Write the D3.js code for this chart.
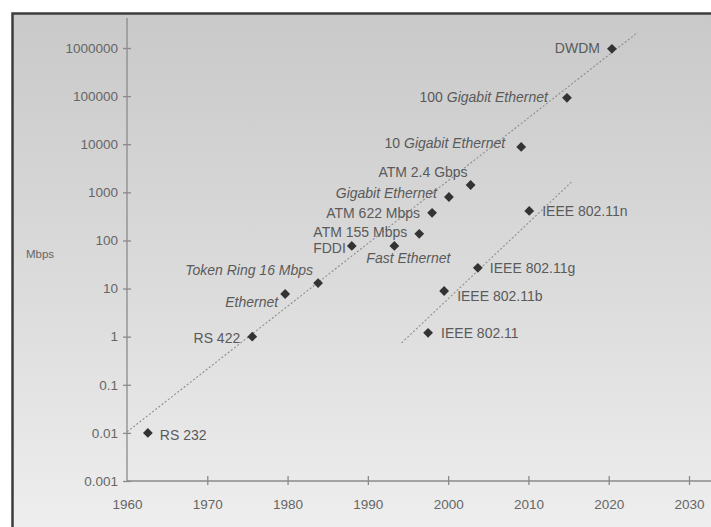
<!DOCTYPE html>
<html>
<head>
<meta charset="utf-8">
<script src="https://cdn.jsdelivr.net/npm/d3@7"></script>
<style>
  html, body { margin: 0; padding: 0; background: #fff; }
  svg { display: block; font-family: "Liberation Sans", Arial, sans-serif; }
</style>
</head>
<body>
<div id="chart"></div>
<script>
// data
const techNames = ['RS 232', 'RS 422', 'Ethernet', 'Token Ring 16 Mbps', 'FDDI', 'Fast Ethernet',
  'ATM 155 Mbps', 'ATM 622 Mbps', 'Gigabit Ethernet', 'ATM 2.4 Gbps', '10 Gigabit Ethernet',
  '100 Gigabit Ethernet', 'DWDM', 'IEEE 802.11n', 'IEEE 802.11g', 'IEEE 802.11b', 'IEEE 802.11'];
const techYears = [1962.6, 1975.6, 1979.7, 1983.8, 1988.0, 1993.3, 1996.4, 1998.0, 2000.1, 2002.8,
  2009.1, 2014.8, 2020.4, 2010.1, 2003.7, 1999.5, 1997.5];
const techMbps = [0.01, 1, 7.7, 13, 77, 77, 137, 375, 800, 1420, 8800, 92000, 960000, 410, 27, 8.9, 1.2];
// trend lines: [year, Mbps] end points
const wiredTrend = [[1960, 0.0105], [2023.6, 2.1e6]];
const wirelessTrend = [[1994.2, 0.74], [2015.4, 1660]];
const yTicks = [0.001, 0.01, 0.1, 1, 10, 100, 1000, 10000, 100000, 1000000];
const yTickLabels = ['0.001', '0.01', '0.1', '1', '10', '100', '1000', '10000', '100000', '1000000'];
const xTicks = [1960, 1970, 1980, 1990, 2000, 2010, 2020, 2030];

// label placement: [dx, dy, anchor, italic part]
const labelPos = {
  'RS 232': [12, 2, 'start'],
  'RS 422': [-12, 1, 'end'],
  'Ethernet': [-7, 8, 'end', 'all'],
  'Token Ring 16 Mbps': [-5, -13, 'end', 'all'],
  'FDDI': [-6, 2, 'end'],
  'Fast Ethernet': [-28, 12, 'start', 'all'],
  'ATM 155 Mbps': [-12, -2, 'end'],
  'ATM 622 Mbps': [-12, 0, 'end'],
  'Gigabit Ethernet': [-12, -4, 'end', 'all'],
  'ATM 2.4 Gbps': [-3, -13, 'end'],
  '10 Gigabit Ethernet': [-16, -4, 'end', 'tail'],
  '100 Gigabit Ethernet': [-19, -1, 'end', 'tail'],
  'DWDM': [-12, -1, 'end'],
  'IEEE 802.11n': [13, 0, 'start'],
  'IEEE 802.11g': [12, 0, 'start'],
  'IEEE 802.11b': [13, 5, 'start'],
  'IEEE 802.11': [13, 0, 'start']
};

const W = 711, H = 527;
const svg = d3.select('#chart').append('svg').attr('width', W).attr('height', H);

// paper background
const grad = svg.append('defs').append('linearGradient')
  .attr('id', 'paper').attr('x1', 0).attr('y1', 0).attr('x2', 0).attr('y2', 1);
grad.append('stop').attr('offset', 0).attr('stop-color', '#c9c9c9');
grad.append('stop').attr('offset', 0.55).attr('stop-color', '#dcdcdc');
grad.append('stop').attr('offset', 1).attr('stop-color', '#eeeeee');
svg.append('rect').attr('x', 12).attr('y', 13).attr('width', W - 12).attr('height', H - 13)
  .attr('fill', 'url(#paper)');
svg.append('path').attr('d', `M12.5,${H} V13.5 H${W}`)
  .attr('fill', 'none').attr('stroke', '#3c3c3c').attr('stroke-width', 2.5);

const x = d3.scaleLinear().domain([1960, 2030]).range([127, 689]);
const y = d3.scaleLog().domain([0.001, 1000000]).range([481, 48]);

// axes
const axisColor = '#8a8a8a';
const yAxis = svg.append('g').attr('transform', `translate(${x(1960)},0)`)
  .call(d3.axisLeft(y).tickValues(yTicks).tickSize(0).tickPadding(9)
    .tickFormat((d, i) => yTickLabels[i]));
yAxis.select('.domain').remove();
yAxis.selectAll('.tick line').attr('x1', -4).attr('x2', 4);
yAxis.append('line').attr('x1', 0).attr('x2', 0).attr('y1', 18).attr('y2', y(0.001));

const xAxis = svg.append('g').attr('transform', `translate(0,${y(0.001)})`)
  .call(d3.axisBottom(x).tickValues(xTicks).tickSize(0).tickPadding(18).tickFormat(d3.format('d')));
xAxis.select('.domain').remove();
xAxis.selectAll('.tick line').attr('y1', -5).attr('y2', 4);
xAxis.selectAll('.tick').filter(d => d === 1960).select('line').remove();
xAxis.append('line').attr('x1', x(1960)).attr('x2', W).attr('y1', 0).attr('y2', 0);

svg.selectAll('.tick line, g > line').attr('stroke', axisColor).attr('stroke-width', 1.3);
svg.selectAll('.tick text').attr('fill', '#666').attr('font-size', 13.5)
  .attr('font-family', '"Liberation Sans", Arial, sans-serif');

svg.append('text').attr('x', 26).attr('y', 258).attr('fill', '#666')
  .attr('font-size', 11.5).text('Mbps');

// trend lines
const line = d3.line().x(d => x(d[0])).y(d => y(d[1]));
[wiredTrend, wirelessTrend].forEach(t => {
  svg.append('path').attr('d', line(t)).attr('fill', 'none')
    .attr('stroke', '#8c8c8c').attr('stroke-width', 1.1).attr('stroke-dasharray', '2,2');
});

// points
const pts = techNames.map((n, i) => ({ name: n, year: techYears[i], mbps: techMbps[i] }));
svg.append('g').selectAll('path').data(pts).join('path')
  .attr('transform', d => `translate(${x(d.year)},${y(d.mbps)}) rotate(45)`)
  .attr('d', d3.symbol(d3.symbolSquare, 48))
  .attr('fill', '#333');

// labels
const labels = svg.append('g').attr('fill', '#5a5a5a').attr('font-size', 14);
pts.forEach(d => {
  const p = labelPos[d.name];
  const t = labels.append('text')
    .attr('x', x(d.year) + p[0]).attr('y', y(d.mbps) + p[1])
    .attr('dy', '0.35em').attr('text-anchor', p[2]);
  if (p[3] === 'all') {
    t.attr('font-style', 'italic').text(d.name);
  } else if (p[3] === 'tail') {
    const k = d.name.indexOf(' ');
    t.append('tspan').text(d.name.slice(0, k + 1));
    t.append('tspan').attr('font-style', 'italic').text(d.name.slice(k + 1));
  } else {
    t.text(d.name);
  }
});
</script>
</body>
</html>
